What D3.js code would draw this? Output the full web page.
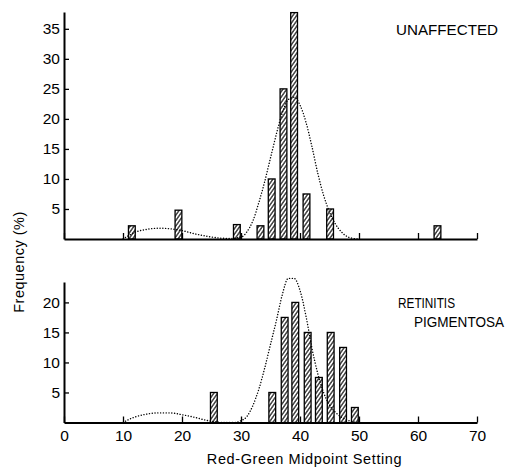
<!DOCTYPE html>
<html><head><meta charset="utf-8">
<script src="https://cdn.jsdelivr.net/npm/d3@7"></script>
<style>body{margin:0;background:#fff} svg{display:block} text{font-family:"Liberation Sans",Arial,sans-serif;fill:#000}</style>
</head><body><svg id="c" width="515" height="470"></svg>
<script>
// ---- data ----
const unaffectedBins = [11.5, 19.4, 29.3, 33.3, 35.2, 37.2, 39.0, 41.1, 45.1, 63.3];
const unaffectedFreq = [2.2, 4.8, 2.4, 2.2, 10, 25, 37.7, 7.5, 5, 2.2];
const rpBins = [25.4, 35.3, 37.4, 39.2, 41.3, 43.2, 45.2, 47.3, 49.3];
const rpFreq = [5, 5, 17.5, 20, 15, 7.5, 15, 12.5, 2.5];

const unaffectedCurveX = [10, 11, 12, 14, 16, 18, 20, 22, 24, 26, 28, 30, 31, 32, 33, 34, 35, 36, 37, 38, 39, 40, 41, 42, 43, 44, 45, 46, 47, 48, 49, 50];
const unaffectedCurveY = [0, 0.6, 1.1, 1.6, 1.8, 1.7, 1.4, 0.9, 0.5, 0.2, 0.1, 0.3, 1.2, 3, 6, 9.5, 13.5, 17.5, 21, 23.2, 23.6, 22.3, 19.5, 15.5, 11, 7.3, 4.5, 2.5, 1.2, 0.4, 0.1, 0];
const rpCurveX = [10, 11, 12, 14, 16, 18, 20, 22, 24, 25, 27, 29, 30, 31, 32, 33, 34, 35, 36, 37, 38, 39, 40, 41, 42, 43, 44, 45, 46, 47, 48, 49, 50];
const rpCurveY = [0, 0.5, 0.9, 1.4, 1.6, 1.6, 1.3, 0.9, 0.4, 0.2, 0, 0, 0.3, 1, 2.8, 5.5, 9, 13, 17, 21.3, 24, 24, 22, 17.8, 12.5, 8.2, 5, 2.9, 1.7, 0.9, 0.4, 0.1, 0];

const xTicks = [0, 10, 20, 30, 40, 50, 60, 70];
const unaffectedYTicks = [5, 10, 15, 20, 25, 30, 35];
const rpYTicks = [5, 10, 15, 20];
const xTitle = "Red-Green Midpoint Setting";
const yTitle = "Frequency (%)";

// ---- drawing ----
const svg = d3.select("#c");
const defs = svg.append("defs");
const pat = defs.append("pattern").attr("id", "hatch").attr("patternUnits", "userSpaceOnUse")
  .attr("width", 6).attr("height", 3.1).attr("patternTransform", "rotate(-55)");
pat.append("rect").attr("width", 6).attr("height", 3.1).attr("fill", "#fff");
pat.append("line").attr("x1", 0).attr("x2", 6).attr("y1", 0.8).attr("y2", 0.8)
  .attr("stroke", "#000").attr("stroke-width", 1.1);

const x = d3.scaleLinear().domain([0, 70]).range([64, 477]);
const barW = 1.15; // bar width in x units

function panel(yScale, bins, freq, cx, cy, yTicks, showXLabels) {
  const g = svg.append("g");
  const data = bins.map((b, i) => ({ b, f: freq[i] }));
  g.selectAll("rect.bar").data(data).join("rect").attr("class", "bar")
    .attr("x", d => x(d.b - barW / 2)).attr("width", x(barW) - x(0))
    .attr("y", d => yScale(d.f)).attr("height", d => yScale(0) - yScale(d.f))
    .attr("fill", "url(#hatch)").attr("stroke", "#000").attr("stroke-width", 1.3);

  const line = d3.line().x(d => x(d[0])).y(d => yScale(d[1])).curve(d3.curveMonotoneX);
  g.append("path").datum(cx.map((v, i) => [v, cy[i]])).attr("d", line)
    .attr("fill", "none").attr("stroke", "#000").attr("stroke-width", 1.4)
    .attr("stroke-dasharray", "0.1 2.7").attr("stroke-linecap", "round");

  const yAx = d3.axisLeft(yScale).tickValues(yTicks).tickSizeInner(-5).tickSizeOuter(0).tickPadding(4);
  const ya = g.append("g").attr("transform", `translate(${x(0)},0)`).call(yAx);
  ya.select(".domain").attr("stroke-width", 2);
  ya.selectAll(".tick line").attr("stroke-width", 1.3);
  ya.selectAll("text").attr("font-size", 15.5).attr("font-family", '"Liberation Sans",Arial,sans-serif').attr("fill", "#000");

  const xAx = d3.axisBottom(x).tickValues(xTicks).tickSizeInner(-6).tickSizeOuter(0).tickPadding(7)
    .tickFormat(showXLabels ? d3.format("d") : () => "");
  const xa = g.append("g").attr("transform", `translate(0,${yScale(0)})`).call(xAx);
  xa.select(".domain").attr("stroke-width", 2);
  xa.selectAll(".tick line").attr("stroke-width", 1.3);
  xa.selectAll("text").attr("font-size", 15.5).attr("font-family", '"Liberation Sans",Arial,sans-serif').attr("fill", "#000");
  ya.raise();
}

const yTop = d3.scaleLinear().domain([0, 37.8]).range([239, 12]);
const yBot = d3.scaleLinear().domain([0, 23.4]).range([422.5, 282]);
panel(yTop, unaffectedBins, unaffectedFreq, unaffectedCurveX, unaffectedCurveY, unaffectedYTicks, false);
panel(yBot, rpBins, rpFreq, rpCurveX, rpCurveY, rpYTicks, true);

svg.append("text").attr("x", 396).attr("y", 35).attr("font-size", 15)
  .attr("textLength", 102).attr("lengthAdjust", "spacingAndGlyphs").text("UNAFFECTED");
svg.append("text").attr("x", 398).attr("y", 308).attr("font-size", 15)
  .attr("textLength", 57).attr("lengthAdjust", "spacingAndGlyphs").text("RETINITIS");
svg.append("text").attr("x", 414).attr("y", 327).attr("font-size", 15)
  .attr("textLength", 90).attr("lengthAdjust", "spacingAndGlyphs").text("PIGMENTOSA");

svg.append("text").attr("x", 304.5).attr("y", 464).attr("text-anchor", "middle")
  .attr("font-size", 14.5).attr("letter-spacing", 0.6).text(xTitle);
svg.append("text").attr("transform", "translate(24,262) rotate(-90)").attr("text-anchor", "middle")
  .attr("font-size", 14.5).attr("letter-spacing", 0.5).text(yTitle);
</script></body></html>
